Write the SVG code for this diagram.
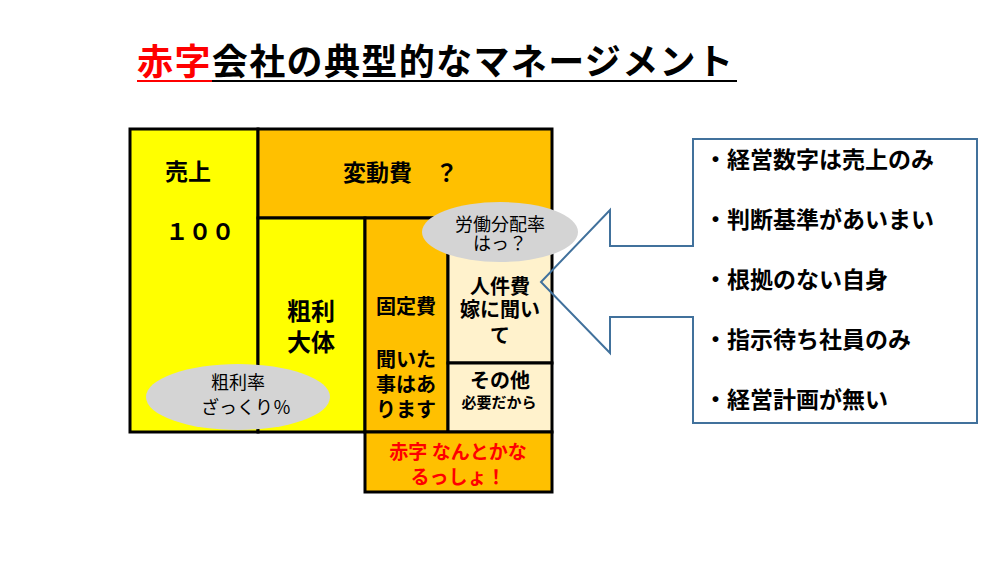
<svg xmlns="http://www.w3.org/2000/svg" width="1000" height="563" viewBox="0 0 1000 563">
<style>
text{font-family:"Noto Sans CJK JP","Noto Sans CJK SC",sans-serif;font-weight:bold;fill:#000}
.c{text-anchor:middle}
.box{stroke:#000;stroke-width:3}
.y{fill:#FFFF00}.o{fill:#FFC000}.cr{fill:#FFF2CC}
.el{fill:#D4D4D4}
.el-t{font-weight:normal;font-size:18px}
.red{fill:#FF0000}
.li{font-size:23px}
</style>
<rect width="1000" height="563" fill="#fff"/>
<g id="title">
<text x="137" y="75" font-size="36" textLength="596" lengthAdjust="spacing"><tspan class="red">赤字</tspan>会社の典型的なマネージメント</text>
<line x1="137" y1="81" x2="212" y2="81" stroke="#FF0000" stroke-width="2"/>
<line x1="212" y1="81" x2="737" y2="81" stroke="#000" stroke-width="2"/>
</g>
<g id="uriage">
<rect class="box y" x="130" y="129" width="128" height="303"/>
<text class="c" x="188" y="180" font-size="23">売上</text>
<text class="c" x="200" y="240" font-size="23">１００</text>
</g>
<g id="hendouhi">
<rect class="box o" x="258" y="129" width="294" height="89"/>
<text x="343" y="181" font-size="23">変動費　？</text>
</g>
<g id="arari">
<rect class="box y" x="258" y="218" width="107" height="214"/>
<text class="c" x="311" y="320" font-size="24">粗利</text>
<text class="c" x="311" y="351" font-size="24">大体</text>
</g>
<g id="koteihi">
<rect class="box o" x="365" y="218" width="83" height="214"/>
<text class="c" x="406" y="314" font-size="20">固定費</text>
<text class="c" x="406" y="367" font-size="20">聞いた</text>
<text class="c" x="406" y="392" font-size="20">事はあ</text>
<text class="c" x="406" y="417" font-size="20">ります</text>
</g>
<g id="jinkenhi">
<rect class="box cr" x="448" y="218" width="104" height="145"/>
<text class="c" x="500" y="294" font-size="20">人件費</text>
<text class="c" x="500" y="317" font-size="20">嫁に聞い</text>
<text class="c" x="500" y="343" font-size="20">て</text>
</g>
<g id="sonota">
<rect class="box cr" x="448" y="363" width="104" height="69"/>
<text class="c" x="500" y="388" font-size="20">その他</text>
<text class="c" x="499" y="408" font-size="15">必要だから</text>
</g>
<g id="akaji">
<rect class="box o" x="365" y="432" width="187" height="60"/>
<text class="c red" x="458" y="459" font-size="19">赤字 なんとかな</text>
<text class="c red" x="458" y="484" font-size="19">るっしょ！</text>
</g>
<g id="roudou">
<ellipse class="el" cx="500" cy="232" rx="78" ry="30"/>
<text class="c el-t" x="500" y="231">労働分配率</text>
<text class="c el-t" x="500" y="250">はっ？</text>
</g>
<g id="arariritsu">
<ellipse class="el" cx="238" cy="397" rx="92" ry="33"/>
<text class="c el-t" x="238" y="389">粗利率</text>
<text class="c el-t" x="246" y="414">ざっくり％</text>
</g>
<g id="callout">
<path d="M693,139 H977 V423 H693 V317 H610 V353 L541,282 L610,210 V246 H693 Z" fill="none" stroke="#41719C" stroke-width="2"/>
<text class="li" x="704" y="168">・経営数字は売上のみ</text>
<text class="li" x="704" y="228">・判断基準があいまい</text>
<text class="li" x="704" y="288">・根拠のない自身</text>
<text class="li" x="704" y="348">・指示待ち社員のみ</text>
<text class="li" x="704" y="408">・経営計画が無い</text>
</g>
<g id="connectors"></g>
</svg>
